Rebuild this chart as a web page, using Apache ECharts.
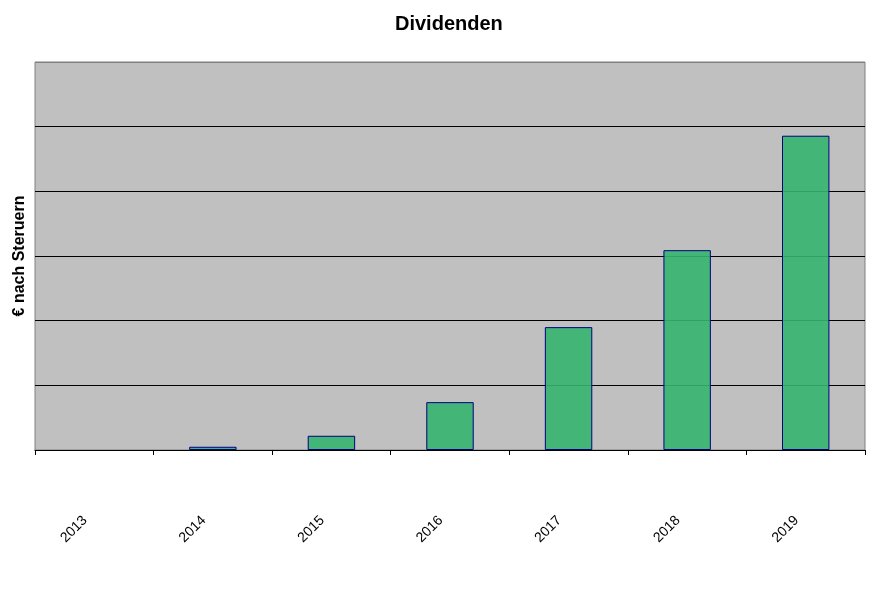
<!DOCTYPE html>
<html>
<head>
<meta charset="utf-8">
<script src="https://cdn.jsdelivr.net/npm/echarts@6/dist/echarts.min.js"></script>
<style>html,body{margin:0;padding:0;background:#fff;}#c{width:882px;height:589px;}</style>
</head>
<body>
<div id="c"></div>
<script>
const years = ['2013', '2014', '2015', '2016', '2017', '2018', '2019'];
const dividends = [0, 5, 22, 74, 190, 309, 486];
const yMin = 0, yMax = 600, yStep = 100;

const chart = echarts.init(document.getElementById('c'));
chart.setOption({
  animation: false,
  backgroundColor: '#ffffff',
  title: {
    text: 'Dividenden',
    left: 390,
    top: 9,
    textStyle: { fontFamily: 'Liberation Sans, Arial, sans-serif', fontSize: 20, fontWeight: 'bold', color: '#000' }
  },
  grid: {
    left: 35, right: 17, top: 62, bottom: 139,
    show: true, backgroundColor: '#C0C0C0', borderColor: '#808080', borderWidth: 1
  },
  xAxis: {
    type: 'category',
    data: years,
    boundaryGap: true,
    axisLine: { lineStyle: { color: '#000', width: 1 } },
    axisTick: { show: true, length: 5, lineStyle: { color: '#000' } },
    axisLabel: {
      rotate: 45, margin: 59, fontSize: 14, padding: [0, 13, 0, 0],
      fontFamily: 'Liberation Sans, Arial, sans-serif', color: '#000'
    }
  },
  yAxis: {
    type: 'value',
    min: yMin, max: yMax, interval: yStep,
    name: '€ nach Steruern',
    nameLocation: 'middle',
    nameGap: 7,
    nameTextStyle: { fontFamily: 'Liberation Sans, Arial, sans-serif', fontSize: 16, fontWeight: 'bold', color: '#000' },
    axisLine: { show: false },
    axisTick: { show: false },
    axisLabel: { show: false },
    splitLine: { show: true, lineStyle: { color: ['#000','#000','#000','#000','#000','#000','#808080'], width: 1 } }
  },
  series: [{
    type: 'bar',
    data: dividends.map(v => (v === 0 ? '-' : v)),
    barWidth: '40%',
    itemStyle: { color: 'rgba(53,181,111,0.9)', borderColor: '#000080', borderWidth: 1 }
  }]
});
</script>
</body>
</html>
